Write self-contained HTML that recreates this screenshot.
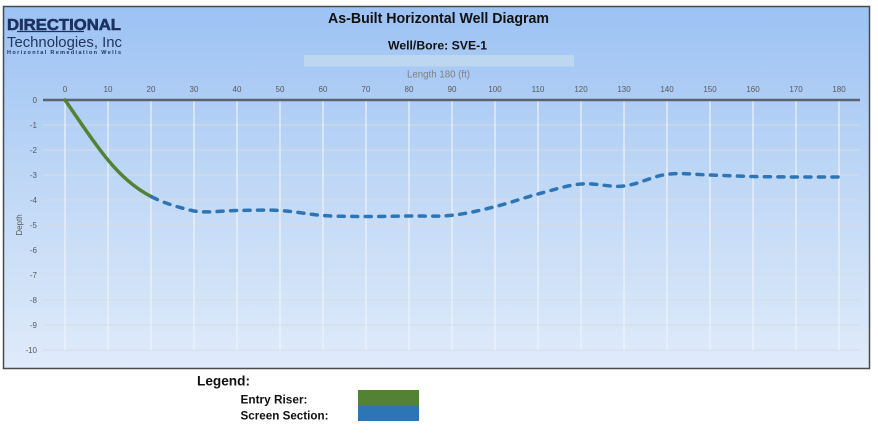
<!DOCTYPE html>
<html><head><meta charset="utf-8"><style>
html,body{margin:0;padding:0;background:#fff;}
svg{display:block;}
text{font-family:"Liberation Sans",Arial,sans-serif;}
</style></head><body>
<svg width="878" height="433" viewBox="0 0 878 433" xmlns="http://www.w3.org/2000/svg">
<defs>
<linearGradient id="bg" x1="0" y1="0" x2="0" y2="1">
<stop offset="0" stop-color="#9cc2f4"/>
<stop offset="0.5" stop-color="#c0d8f6"/>
<stop offset="1" stop-color="#e0ebfa"/>
</linearGradient>
</defs>
<rect x="0" y="0" width="878" height="433" fill="#fff"/>
<rect x="3.5" y="6.5" width="866" height="362" fill="url(#bg)" stroke="#4a4a4a" stroke-width="1.5"/>

<!-- logo -->
<text x="7" y="30" font-size="16" font-weight="bold" fill="#1c3260" stroke="#1c3260" stroke-width="0.6" textLength="114" lengthAdjust="spacingAndGlyphs">DIRECTIONAL</text>
<line x1="17" y1="31.5" x2="84" y2="31.5" stroke="#1c3260" stroke-width="1.2"/>
<text x="7" y="47" font-size="14.5" fill="#22365f" textLength="115" lengthAdjust="spacingAndGlyphs">Technologies, Inc</text>
<text x="7" y="54" font-size="5.5" font-weight="bold" fill="#22365f" textLength="114" lengthAdjust="spacing">Horizontal Remediation Wells</text>

<!-- titles -->
<text x="438.5" y="23" font-size="14.5" font-weight="bold" fill="#111" text-anchor="middle" textLength="221" lengthAdjust="spacingAndGlyphs">As-Built Horizontal Well Diagram</text>
<text x="437.5" y="49.5" font-size="12" font-weight="bold" fill="#111" text-anchor="middle" textLength="99" lengthAdjust="spacingAndGlyphs">Well/Bore: SVE-1</text>
<rect x="304" y="55" width="270" height="11.5" fill="#bdd7f0"/>
<text x="438.5" y="77.5" font-size="10.5" fill="#7f7f7f" text-anchor="middle" textLength="63" lengthAdjust="spacingAndGlyphs">Length 180 (ft)</text>

<!-- horizontal gridlines -->
<g stroke="#d6dbe3" stroke-width="1">
<line x1="43" y1="125" x2="860" y2="125"/>
<line x1="43" y1="150" x2="860" y2="150"/>
<line x1="43" y1="175" x2="860" y2="175"/>
<line x1="43" y1="200" x2="860" y2="200"/>
<line x1="43" y1="225" x2="860" y2="225"/>
<line x1="43" y1="250" x2="860" y2="250"/>
<line x1="43" y1="275" x2="860" y2="275"/>
<line x1="43" y1="300" x2="860" y2="300"/>
<line x1="43" y1="325" x2="860" y2="325"/>
<line x1="43" y1="350" x2="860" y2="350"/>
</g>
<!-- vertical gridlines -->
<g stroke="#eef3fb" stroke-width="1.2">
<line x1="65" y1="100" x2="65" y2="350"/>
<line x1="108" y1="100" x2="108" y2="350"/>
<line x1="151" y1="100" x2="151" y2="350"/>
<line x1="194" y1="100" x2="194" y2="350"/>
<line x1="237" y1="100" x2="237" y2="350"/>
<line x1="280" y1="100" x2="280" y2="350"/>
<line x1="323" y1="100" x2="323" y2="350"/>
<line x1="366" y1="100" x2="366" y2="350"/>
<line x1="409" y1="100" x2="409" y2="350"/>
<line x1="452" y1="100" x2="452" y2="350"/>
<line x1="495" y1="100" x2="495" y2="350"/>
<line x1="538" y1="100" x2="538" y2="350"/>
<line x1="581" y1="100" x2="581" y2="350"/>
<line x1="624" y1="100" x2="624" y2="350"/>
<line x1="667" y1="100" x2="667" y2="350"/>
<line x1="710" y1="100" x2="710" y2="350"/>
<line x1="753" y1="100" x2="753" y2="350"/>
<line x1="796" y1="100" x2="796" y2="350"/>
<line x1="839" y1="100" x2="839" y2="350"/>
</g>
<!-- x axis -->
<line x1="43" y1="100" x2="860" y2="100" stroke="#5b6370" stroke-width="2.5"/>

<!-- x tick labels -->
<g font-size="8" fill="#595959" text-anchor="middle">
<text x="65" y="92">0</text>
<text x="108" y="92">10</text>
<text x="151" y="92">20</text>
<text x="194" y="92">30</text>
<text x="237" y="92">40</text>
<text x="280" y="92">50</text>
<text x="323" y="92">60</text>
<text x="366" y="92">70</text>
<text x="409" y="92">80</text>
<text x="452" y="92">90</text>
<text x="495" y="92">100</text>
<text x="538" y="92">110</text>
<text x="581" y="92">120</text>
<text x="624" y="92">130</text>
<text x="667" y="92">140</text>
<text x="710" y="92">150</text>
<text x="753" y="92">160</text>
<text x="796" y="92">170</text>
<text x="839" y="92">180</text>
</g>
<!-- y tick labels -->
<g font-size="8" fill="#595959" text-anchor="end">
<text x="37" y="103">0</text>
<text x="37" y="128">-1</text>
<text x="37" y="153">-2</text>
<text x="37" y="178">-3</text>
<text x="37" y="203">-4</text>
<text x="37" y="228">-5</text>
<text x="37" y="253">-6</text>
<text x="37" y="278">-7</text>
<text x="37" y="303">-8</text>
<text x="37" y="328">-9</text>
<text x="37" y="353">-10</text>
</g>
<text x="0" y="0" font-size="8" fill="#595959" text-anchor="middle" transform="translate(22,225) rotate(-90)">Depth</text>

<!-- entry riser -->
<path d="M65,100 C79,120 93,142 108,160 C122,177 136,189 152,197" fill="none" stroke="#548235" stroke-width="3.5" stroke-linecap="round"/>
<!-- screen section -->
<path d="M152,197 C160,201 172,206 194,211 C208.2,213.25 222.7,210.6 237,210.5 C251.3,210.4 265.7,209.7 280,210.5 C294.3,211.3 308.7,214.5 323,215.5 C337.3,216.5 351.7,216.4 366,216.5 C380.3,216.6 394.7,216.2 409,216 C423.3,215.8 437.7,216.85 452,215.3 C466.3,213.75 480.7,210.25 495,206.7 C509.3,203.15 523.7,197.8 538,194 C552.3,190.2 566.7,185.3 581,184 C595.3,182.67 609.7,187.6 624,186 C638.3,184.4 652.7,176.1 667,174.3 C681.3,172.5 695.7,174.6 710,175 C724.3,175.4 738.7,176.2 753,176.5 C767.3,176.8 781.7,176.9 796,177 C810.3,177.1 831.8,177 839,177" fill="none" stroke="#2e75b6" stroke-width="3.5" stroke-linecap="round" stroke-dasharray="6 7.5"/>

<!-- legend -->
<text x="197" y="385.5" font-size="14" font-weight="bold" fill="#111" textLength="53" lengthAdjust="spacingAndGlyphs">Legend:</text>
<text x="240.5" y="403.5" font-size="12" font-weight="bold" fill="#111" textLength="67" lengthAdjust="spacingAndGlyphs">Entry Riser:</text>
<text x="240.5" y="419.5" font-size="12" font-weight="bold" fill="#111" textLength="88" lengthAdjust="spacingAndGlyphs">Screen Section:</text>
<rect x="358" y="390" width="61" height="16" fill="#548235"/>
<rect x="358" y="406" width="61" height="15" fill="#2e75b6"/>
</svg>
</body></html>
